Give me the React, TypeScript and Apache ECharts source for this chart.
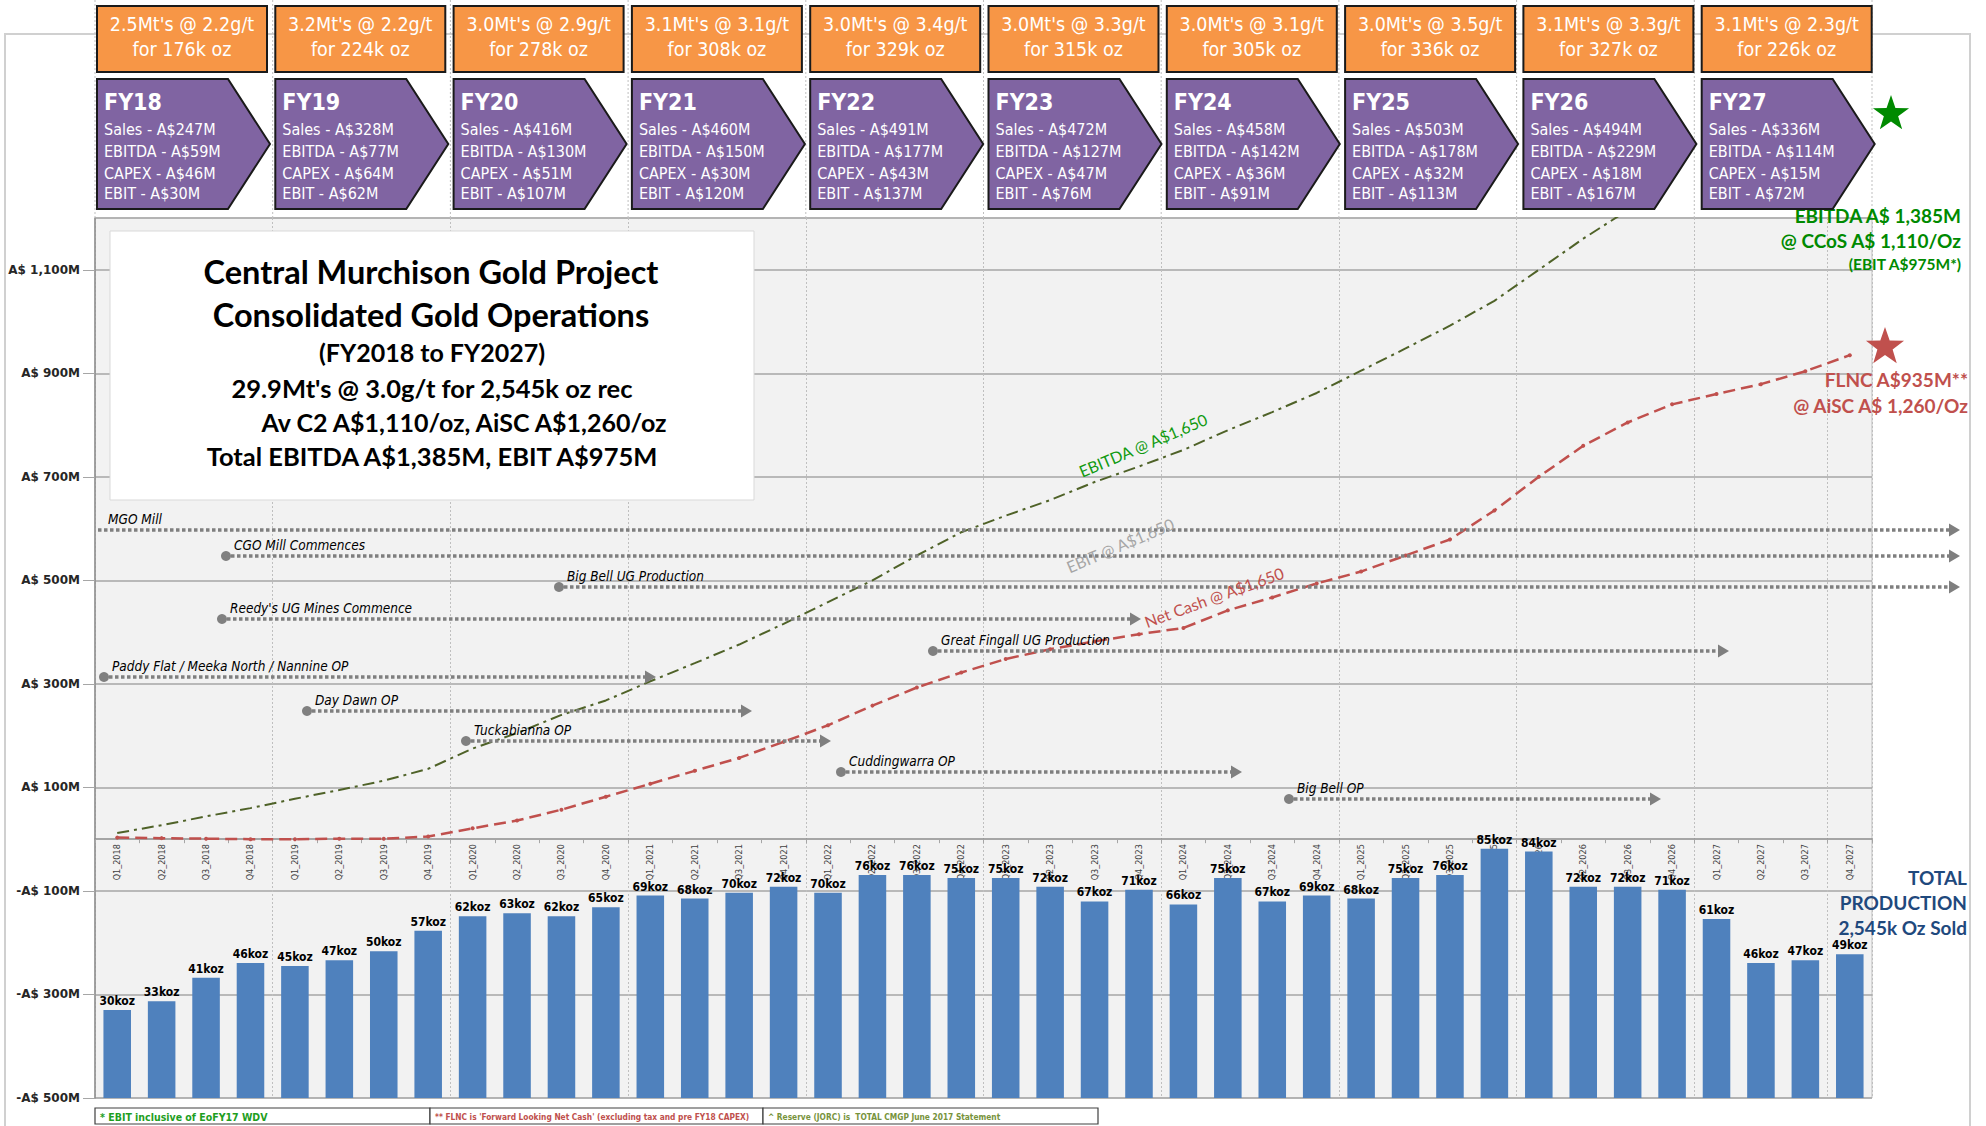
import React, { useEffect, useRef } from 'react';
import * as echarts from 'echarts';

// ---------------- DATA ----------------
const QUARTERS = [
  'Q1_2018', 'Q2_2018', 'Q3_2018', 'Q4_2018',
  'Q1_2019', 'Q2_2019', 'Q3_2019', 'Q4_2019',
  'Q1_2020', 'Q2_2020', 'Q3_2020', 'Q4_2020',
  'Q1_2021', 'Q2_2021', 'Q3_2021', 'Q4_2021',
  'Q1_2022', 'Q2_2022', 'Q3_2022', 'Q4_2022',
  'Q1_2023', 'Q2_2023', 'Q3_2023', 'Q4_2023',
  'Q1_2024', 'Q2_2024', 'Q3_2024', 'Q4_2024',
  'Q1_2025', 'Q2_2025', 'Q3_2025', 'Q4_2025',
  'Q1_2026', 'Q2_2026', 'Q3_2026', 'Q4_2026',
  'Q1_2027', 'Q2_2027', 'Q3_2027', 'Q4_2027',
];

const PRODUCTION_KOZ = [
  30, 33, 41, 46,
  45, 47, 50, 57,
  62, 63, 62, 65,
  69, 68, 70, 72,
  70, 76, 76, 75,
  75, 72, 67, 71,
  66, 75, 67, 69,
  68, 75, 76, 85,
  84, 72, 72, 71,
  61, 46, 47, 49,
];

const EBITDA_CUMULATIVE = [
  12, 27, 44, 60,
  78, 95, 113, 136,
  175, 205, 240, 268,
  305, 340, 376, 416,
  458, 500, 548, 593,
  625, 655, 690, 720,
  752, 790, 825, 862,
  905, 948, 992, 1040,
  1100, 1160, 1215, 1269,
  1300, 1330, 1358, 1383,
];

const NET_CASH_CUMULATIVE = [
  3, 2, 1, 0,
  0, 1, 1, 5,
  21, 36, 57, 82,
  107, 132, 157, 188,
  220, 258, 293, 322,
  348, 367, 382, 396,
  408, 442, 467, 494,
  517, 548, 579, 635,
  700, 760, 805, 840,
  860, 879, 904, 935,
];

const Y_TICK_VALUES = [-500, -300, -100, 100, 300, 500, 700, 900, 1100];
const Y_MIN = -500;
const Y_MAX = 1200;
const Y_STEP = 200;
const KOZ_AXIS_MAX = 300;

const FISCAL_YEARS = ['FY18', 'FY19', 'FY20', 'FY21', 'FY22', 'FY23', 'FY24', 'FY25', 'FY26', 'FY27'];
const FY_SALES = [247, 328, 416, 460, 491, 472, 458, 503, 494, 336];
const FY_EBITDA = [59, 77, 130, 150, 177, 127, 142, 178, 229, 114];
const FY_CAPEX = [46, 64, 51, 30, 43, 47, 36, 32, 18, 15];
const FY_EBIT = [30, 62, 107, 120, 137, 76, 91, 113, 167, 72];
const FY_ORE_MT = ['2.5', '3.2', '3.0', '3.1', '3.0', '3.0', '3.0', '3.0', '3.1', '3.1'];
const FY_GRADE = ['2.2', '2.2', '2.9', '3.1', '3.4', '3.3', '3.1', '3.5', '3.3', '2.3'];
const FY_OUNCES_K = [176, 224, 278, 308, 329, 315, 305, 336, 327, 226];

const MILESTONE_LABELS = [
  'MGO Mill',
  'CGO Mill Commences',
  'Big Bell UG Production',
  "Reedy's UG Mines Commence",
  'Great Fingall UG Production',
  'Paddy Flat / Meeka North / Nannine OP',
  'Day Dawn OP',
  'Tuckabianna OP',
  'Cuddingwarra OP',
  'Big Bell OP',
];

const TITLE_LINES = [
  'Central Murchison Gold Project',
  'Consolidated Gold Operations',
  '(FY2018 to FY2027)',
  "29.9Mt's @ 3.0g/t for 2,545k oz rec",
  'Av C2 A$1,110/oz, AiSC A$1,260/oz',
  'Total EBITDA A$1,385M, EBIT A$975M',
];

const FOOTNOTES = [
  '* EBIT inclusive of EoFY17 WDV',
  "** FLNC is 'Forward Looking Net Cash' (excluding tax and pre FY18 CAPEX)",
  '^ Reserve (JORC) is  TOTAL CMGP June 2017 Statement',
];

// ---------------- LAYOUT (pixels) ----------------
const W = 1986;
const H = 1126;
const PL = 95;
const PR = 1872;
const PT = 218;
const PB = 1098;
const YW = (PR - PL) / 10;

const NARROW = "'Liberation Sans Narrow', 'Arial Narrow', 'DejaVu Sans Condensed', 'Roboto Condensed', sans-serif";
const HUMANIST = "Lato, 'Open Sans', sans-serif";

// milestone layout: [startX, endX, y, hasDot]
const MILESTONE_LAYOUT: [number, number, number, boolean][] = [
  [98, 1960, 530, false],
  [226, 1960, 556, true],
  [559, 1960, 587, true],
  [222, 1141, 619, true],
  [933, 1729, 651, true],
  [104, 656, 677, true],
  [307, 752, 711, true],
  [466, 831, 741, true],
  [841, 1242, 772, true],
  [1289, 1661, 799, true],
];

function fmtMoney(v: number): string {
  const a = Math.abs(v).toLocaleString('en-US');
  return (v < 0 ? '-A$ ' : 'A$ ') + a + 'M';
}

function starPoints(cx: number, cy: number, R: number, r: number): number[][] {
  const pts: number[][] = [];
  for (let i = 0; i < 10; i++) {
    const ang = (-90 + i * 36) * Math.PI / 180;
    const rad = i % 2 === 0 ? R : r;
    pts.push([cx + rad * Math.cos(ang), cy + rad * Math.sin(ang)]);
  }
  return pts;
}

function buildGraphics(): any[] {
  const g: any[] = [];
  g.push({
    type: 'rect', silent: true, z: 1,
    shape: { x: 5, y: 34, width: 1965, height: 1100 },
    style: { fill: 'none', stroke: '#D0D0D0', lineWidth: 2 },
  });
  for (let k = 0; k <= 10; k++) {
    const x = PL + k * YW;
    g.push({
      type: 'line', silent: true, z: 2,
      shape: { x1: x, y1: 0, x2: x, y2: PT },
      style: { stroke: '#BFBFBF', lineWidth: 1, lineDash: [2, 2] },
    });
  }
  FISCAL_YEARS.forEach((fy, i) => {
    const x0 = PL + i * YW + 2 + i * 0.6;
    g.push({
      type: 'rect', z: 50,
      shape: { x: x0, y: 6, width: 170, height: 66 },
      style: { fill: '#F79646', stroke: '#1A1A1A', lineWidth: 2 },
    });
    g.push({
      type: 'text', z: 51, x: x0 + 85, y: 24,
      style: { text: `${FY_ORE_MT[i]}Mt's @ ${FY_GRADE[i]}g/t`, fill: '#FFFFFF', font: `19.5px ${NARROW}`, align: 'center', verticalAlign: 'middle' },
    });
    g.push({
      type: 'text', z: 51, x: x0 + 85, y: 49,
      style: { text: `for ${FY_OUNCES_K[i]}k oz`, fill: '#FFFFFF', font: `19.5px ${NARROW}`, align: 'center', verticalAlign: 'middle' },
    });
    const py = 79, pw = 173, ph = 130;
    g.push({
      type: 'polygon', z: 50,
      shape: { points: [[x0, py], [x0 + pw * 0.757, py], [x0 + pw, py + ph / 2], [x0 + pw * 0.757, py + ph], [x0, py + ph]] },
      style: { fill: '#8064A2', stroke: '#1A1A1A', lineWidth: 2 },
    });
    g.push({
      type: 'text', z: 51, x: x0 + 7, y: py + 23,
      style: { text: fy, fill: '#FFFFFF', font: `bold 23px ${NARROW}`, align: 'left', verticalAlign: 'middle' },
    });
    const lines = [
      `Sales - A$${FY_SALES[i]}M`,
      `EBITDA - A$${FY_EBITDA[i]}M`,
      `CAPEX - A$${FY_CAPEX[i]}M`,
      `EBIT - A$${FY_EBIT[i]}M`,
    ];
    const offs = [50, 72, 94, 114];
    lines.forEach((t, j) => {
      g.push({
        type: 'text', z: 51, x: x0 + 7, y: py + offs[j],
        style: { text: t, fill: '#FFFFFF', font: `16px ${NARROW}`, align: 'left', verticalAlign: 'middle' },
      });
    });
  });

  g.push({
    type: 'rect', z: 60,
    shape: { x: 110, y: 231, width: 644, height: 269 },
    style: { fill: '#FFFFFF', stroke: '#D9D9D9', lineWidth: 1 },
  });
  const titleY = [271, 314, 352, 388, 422, 456];
  const titleX = [431, 431, 432, 432, 464, 432];
  const titleSize = [32.5, 32.5, 25, 25.5, 25, 25.5];
  TITLE_LINES.forEach((t, i) => {
    g.push({
      type: 'text', z: 61, x: titleX[i], y: titleY[i],
      style: { text: t, fill: '#000000', font: `bold ${titleSize[i]}px ${HUMANIST}`, align: 'center', verticalAlign: 'middle' },
    });
  });

  MILESTONE_LABELS.forEach((label, i) => {
    const [x1, x2, y, dot] = MILESTONE_LAYOUT[i];
    g.push({
      type: 'line', z: 20, silent: true,
      shape: { x1: x1 + (dot ? 5 : 0), y1: y, x2: x2 - 10, y2: y },
      style: { stroke: '#7F7F7F', lineWidth: 3.5, lineDash: [3.5, 2.5] },
    });
    g.push({
      type: 'polygon', z: 20, silent: true,
      shape: { points: [[x2 - 11, y - 6.5], [x2, y], [x2 - 11, y + 6.5]] },
      style: { fill: '#7F7F7F' },
    });
    if (dot) {
      g.push({
        type: 'circle', z: 21, silent: true,
        shape: { cx: x1, cy: y, r: 5 },
        style: { fill: '#808080' },
      });
    }
    g.push({
      type: 'text', z: 21, x: x1 + (dot ? 8 : 10), y: y - 11,
      style: { text: label, fill: '#000000', font: `italic 13.5px ${NARROW}`, align: 'left', verticalAlign: 'middle' },
    });
  });

  const rot = (deg: number) => deg * Math.PI / 180;
  g.push({
    type: 'text', z: 30, x: 1143, y: 445, rotation: rot(23),
    style: { text: 'EBITDA @ A$1,650', fill: '#109A10', font: `16px ${HUMANIST}`, align: 'center', verticalAlign: 'middle' },
  });
  g.push({
    type: 'text', z: 30, x: 1120, y: 545, rotation: rot(23),
    style: { text: 'EBIT @ A$1,650', fill: '#A6A6A6', font: `16px ${HUMANIST}`, align: 'center', verticalAlign: 'middle' },
  });
  g.push({
    type: 'text', z: 30, x: 1214, y: 597, rotation: rot(20),
    style: { text: 'Net Cash @ A$1,650', fill: '#C0504D', font: `16px ${HUMANIST}`, align: 'center', verticalAlign: 'middle' },
  });

  g.push({ type: 'polygon', z: 40, shape: { points: starPoints(1891, 114, 19, 7.5) }, style: { fill: '#008A00' } });
  g.push({ type: 'polygon', z: 40, shape: { points: starPoints(1885, 347, 20, 8) }, style: { fill: '#C0504D' } });
  const greenTexts: [string, number, number][] = [
    ['EBITDA A$ 1,385M', 215, 19],
    ['@ CCoS A$ 1,110/Oz', 240, 19],
    ['(EBIT A$975M*)', 264, 15.5],
  ];
  greenTexts.forEach(([t, y, s]) => g.push({
    type: 'text', z: 41, x: 1961, y,
    style: { text: t, fill: '#008A00', font: `bold ${s}px ${HUMANIST}`, align: 'right', verticalAlign: 'middle' },
  }));
  const redTexts: [string, number][] = [['FLNC A$935M**', 379], ['@ AiSC A$ 1,260/Oz', 405]];
  redTexts.forEach(([t, y]) => g.push({
    type: 'text', z: 41, x: 1968, y,
    style: { text: t, fill: '#C0504D', font: `bold 19px ${HUMANIST}`, align: 'right', verticalAlign: 'middle' },
  }));
  const blueTexts: [string, number][] = [['TOTAL', 877], ['PRODUCTION', 902], ['2,545k Oz Sold', 927]];
  blueTexts.forEach(([t, y]) => g.push({
    type: 'text', z: 41, x: 1967, y,
    style: { text: t, fill: '#1F497D', font: `bold 19px ${HUMANIST}`, align: 'right', verticalAlign: 'middle' },
  }));

  const fx = [95, 430, 763, 1098];
  const fcol = ['#1E9E1E', '#C0504D', '#77933C'];
  const fsize = [10.5, 8.3, 8.3];
  FOOTNOTES.forEach((t, i) => {
    g.push({
      type: 'rect', z: 40,
      shape: { x: fx[i], y: 1108, width: fx[i + 1] - fx[i], height: 16 },
      style: { fill: '#FFFFFF', stroke: '#404040', lineWidth: 1.2 },
    });
    g.push({
      type: 'text', z: 41, x: fx[i] + 5, y: 1116.5,
      style: { text: t, fill: fcol[i], font: `bold ${fsize[i]}px ${NARROW}`, align: 'left', verticalAlign: 'middle' },
    });
  });
  return g;
}

function buildOption(): any {
  // x axis sits at value 0 of the money axis
  const zeroOffset = -((0 - Y_MIN) / (Y_MAX - Y_MIN)) * (PB - PT);
  return {
    animation: false,
    backgroundColor: '#FFFFFF',
    grid: {
      left: PL, top: PT, width: PR - PL, height: PB - PT,
      show: true, backgroundColor: '#F2F2F2', borderColor: '#BFBFBF', borderWidth: 1,
      containLabel: false,
      outerBoundsMode: 'none',
    },
    xAxis: {
      type: 'category',
      data: QUARTERS,
      boundaryGap: true,
      position: 'bottom',
      offset: zeroOffset,
      axisLine: { onZero: false, lineStyle: { color: '#8C8C8C', width: 1.5 } },
      axisTick: { show: true, length: 4, lineStyle: { color: '#A6A6A6' } },
      axisLabel: { rotate: 90, interval: 0, fontSize: 9, color: '#404040', fontFamily: NARROW, margin: 5 },
      splitLine: { show: true, interval: 3, lineStyle: { color: '#BFBFBF', type: [2, 2], width: 1 } },
    },
    yAxis: [
      {
        type: 'value', min: Y_MIN, max: Y_MAX, interval: Y_STEP, position: 'left',
        axisLine: { show: true, lineStyle: { color: '#8C8C8C', width: 1.5 } },
        axisTick: { show: true, length: 12, lineStyle: { color: '#A6A6A6' } },
        axisLabel: {
          showMaxLabel: false,
          formatter: (v: number) => (Y_TICK_VALUES.indexOf(v) >= 0 ? fmtMoney(v) : ''),
          fontFamily: "'DejaVu Sans', sans-serif", fontWeight: 'bold', fontSize: 12, color: '#262626', margin: 15,
        },
        splitLine: { show: true, lineStyle: { color: '#A6A6A6', width: 1.5 } },
      },
      { type: 'value', min: 0, max: KOZ_AXIS_MAX, show: false, position: 'right', splitLine: { show: false } },
    ],
    series: [
      {
        type: 'bar', name: 'Production', yAxisIndex: 1, data: PRODUCTION_KOZ,
        barWidth: '62%',
        itemStyle: { color: '#4F81BD' },
        label: {
          show: true, position: 'top', distance: 3, formatter: '{c}koz',
          fontWeight: 'bold', fontSize: 12, color: '#000000', fontFamily: NARROW,
        },
        z: 2,
      },
      {
        type: 'line', name: 'EBITDA', yAxisIndex: 0, data: EBITDA_CUMULATIVE,
        symbol: 'none', clip: true,
        lineStyle: { color: '#4F6228', width: 2, type: [12, 5, 3, 5] },
        z: 5,
      },
      {
        type: 'line', name: 'Net Cash', yAxisIndex: 0, data: NET_CASH_CUMULATIVE,
        symbol: 'circle', symbolSize: 4, clip: true,
        itemStyle: { color: '#C0504D' },
        lineStyle: { color: '#C0504D', width: 2.5, type: [12, 6] },
        z: 5,
      },
    ],
    graphic: buildGraphics(),
  };
}

export default function App() {
  const ref = useRef<HTMLDivElement>(null);
  useEffect(() => {
    document.body.style.margin = '0';
    const chart = echarts.init(ref.current as HTMLDivElement, null, { renderer: 'svg', width: W, height: H });
    chart.setOption(buildOption());
    return () => chart.dispose();
  }, []);
  return (
    <div
      ref={ref}
      style={{ position: 'fixed', left: 0, top: 0, width: W, height: H, background: '#FFFFFF' }}
    />
  );
}
